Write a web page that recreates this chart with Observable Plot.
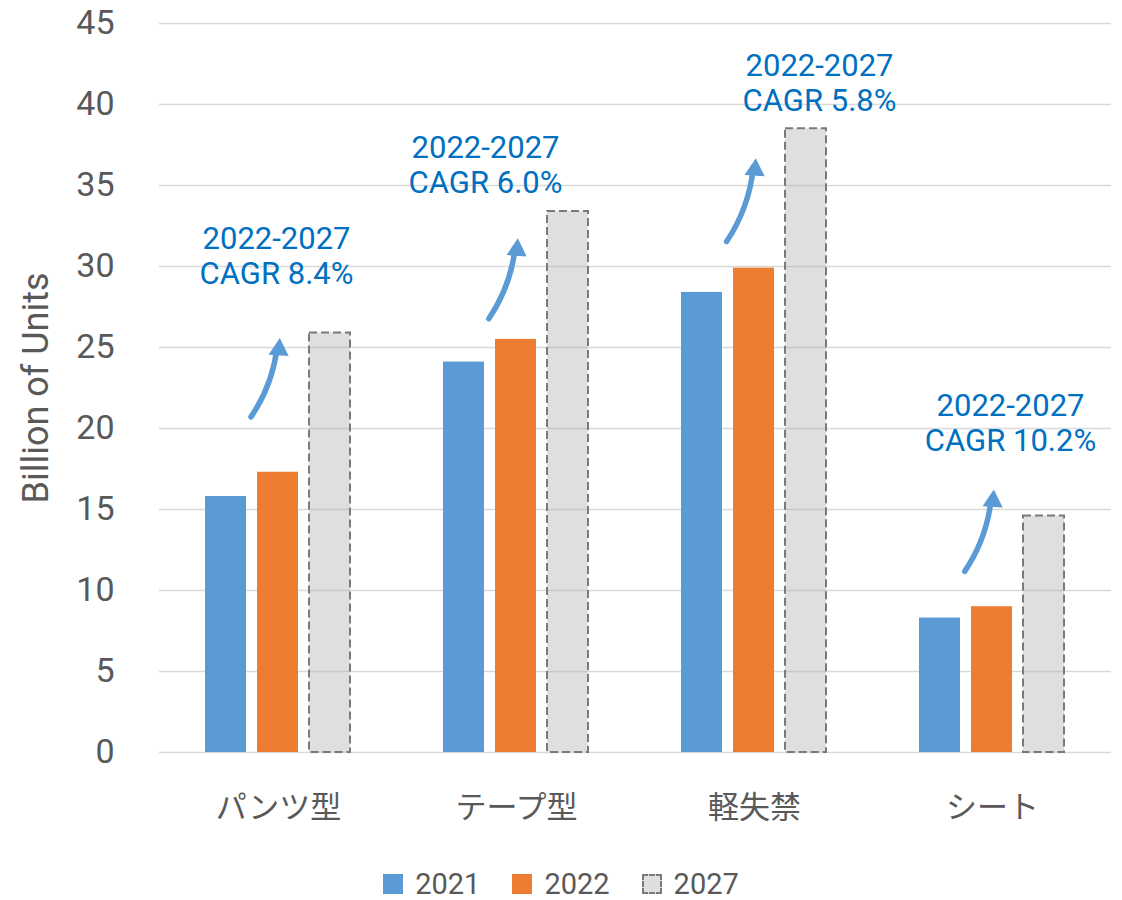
<!DOCTYPE html>
<html>
<head>
<meta charset="utf-8">
<script src="https://cdn.jsdelivr.net/npm/d3@7"></script>
<script src="https://cdn.jsdelivr.net/npm/@observablehq/plot@0.6"></script>
<style>
  html, body { margin: 0; padding: 0; background: #fff; }
  body { width: 1122px; font-family: Roboto, "Noto Sans CJK JP", sans-serif; }
  #legend { display: flex; justify-content: center; align-items: center; height: 40px; margin-top: 4px;
            font-family: Roboto, sans-serif; font-size: 29px; color: #595959; }
  .item { display: flex; align-items: center; margin: 0 16px; }
  .sw { width: 20px; height: 20px; margin-right: 12px; box-sizing: border-box; }
</style>
</head>
<body>
<div id="chart"></div>
<div id="legend"></div>
<script>
// ---- data ----
const categories = ["パンツ型", "テープ型", "軽失禁", "シート"];
const years = ["2021", "2022", "2027"];
const values2021 = [15.8, 24.1, 28.4, 8.3];
const values2022 = [17.3, 25.5, 29.9, 9.0];
const values2027 = [25.9, 33.4, 38.5, 14.6];
const yTicks = [0, 5, 10, 15, 20, 25, 30, 35, 40, 45];
const cagrPeriod = "2022-2027";
const cagrValues = ["8.4%", "6.0%", "5.8%", "10.2%"];
// annotation anchor heights (data units)
const cagrLabelY = [30.7, 36.3, 41.4, 20.4];
const arrowFromY = [18.95, 25.0, 29.75, 9.4];
const arrowToY = [25.55, 31.7, 36.65, 16.2];

// ---- layout constants ----
const labelDx = [-2, -31, 65, 18];
const boxPad = [70, 50, 70, 25];
const colors = {"2021": "#5b9bd5", "2022": "#ed7d31", "2027": "#dedede"};
const arrowColor = "#5b9bd5";

const rows = categories.flatMap((c, i) => [
  {category: c, year: "2021", value: values2021[i]},
  {category: c, year: "2022", value: values2022[i]},
  {category: c, year: "2027", value: values2027[i]}
]);
const annos = categories.map((c, i) => ({
  category: c, label: `${cagrPeriod}\nCAGR ${cagrValues[i]}`, y: cagrLabelY[i],
  y1: arrowFromY[i], y2: arrowToY[i]
}));

const textMarks = annos.map((a, i) => Plot.text([a], {
  fx: "category", y: "y", text: "label", dx: labelDx[i],
  fill: "#0070c0", fontSize: 31, lineHeight: 1.13, lineAnchor: "middle",
  ariaLabel: "cagr"
}));

const plot = Plot.plot({
  width: 1122,
  height: 860,
  marginLeft: 157,
  marginRight: 10,
  marginTop: 23,
  marginBottom: 108,
  style: {fontFamily: 'Roboto, "Noto Sans CJK JP", sans-serif', color: "#595959", background: "#fff"},
  fx: {domain: categories, padding: 0},
  x: {domain: years, paddingInner: 0.2075, paddingOuter: 0.858, axis: null},
  y: {domain: [0, 45]},
  color: {domain: years, range: years.map(y => colors[y])},
  marks: [
    Plot.gridY(yTicks, {stroke: "#d9d9d9", strokeOpacity: 1, strokeWidth: 1.5}),
    Plot.axisY({ticks: yTicks, tickSize: 0, tickPadding: 45, fontSize: 34, label: null}),
    Plot.axisY({ticks: [], tickSize: 0, fontSize: 36,
      label: "Billion of Units", labelAnchor: "center", labelArrow: "none", labelOffset: 137}),
    Plot.axisFx({anchor: "bottom", tickSize: 0, tickPadding: 43, fontSize: 31, label: null}),
    Plot.barY(rows.filter(d => d.year !== "2027"), {fx: "category", x: "year", y: "value", fill: "year"}),
    Plot.barY(rows.filter(d => d.year === "2027"), {fx: "category", x: "year", y: "value",
      fill: "#a6a6a6", fillOpacity: 0.36, stroke: "#7a7a7a", strokeWidth: 2, strokeDasharray: "8,4"}),
    ...textMarks,
    Plot.arrow(annos, {
      fx: "category", x1: () => "2021", x2: () => "2022", y1: "y1", y2: "y2",
      bend: -22, stroke: arrowColor, strokeWidth: 5.5, headLength: 0,
      insetStart: 38, insetEnd: 9
    }),
    Plot.dot(annos, {
      fx: "category", x: () => "2022", y: "y2", symbol: "triangle", r: 7.5,
      rotate: 4, dy: 11, dx: 1, fill: arrowColor, stroke: "none"
    })
  ]
});
document.getElementById("chart").appendChild(plot);

// white text-box backgrounds behind the CAGR labels
const cagrTexts = plot.querySelectorAll('g[aria-label="cagr"] text');
cagrTexts.forEach((t, i) => {
  const b = t.getBBox();
  const p = boxPad[i] ?? 40;
  const r = document.createElementNS("http://www.w3.org/2000/svg", "rect");
  r.setAttribute("x", b.x - p);
  r.setAttribute("y", b.y - 6);
  r.setAttribute("width", b.width + 2 * p);
  r.setAttribute("height", b.height + 12);
  r.setAttribute("fill", "#fff");
  if (t.getAttribute("transform")) r.setAttribute("transform", t.getAttribute("transform"));
  t.parentNode.insertBefore(r, t);
});

// legend
const legend = document.getElementById("legend");
years.forEach(y => {
  const item = document.createElement("div");
  item.className = "item";
  const sw = document.createElement("div");
  sw.className = "sw";
  sw.style.background = colors[y];
  if (y === "2027") sw.style.border = "2px dashed #7a7a7a";
  const lab = document.createElement("span");
  lab.textContent = y;
  item.appendChild(sw);
  item.appendChild(lab);
  legend.appendChild(item);
});
</script>
</body>
</html>
